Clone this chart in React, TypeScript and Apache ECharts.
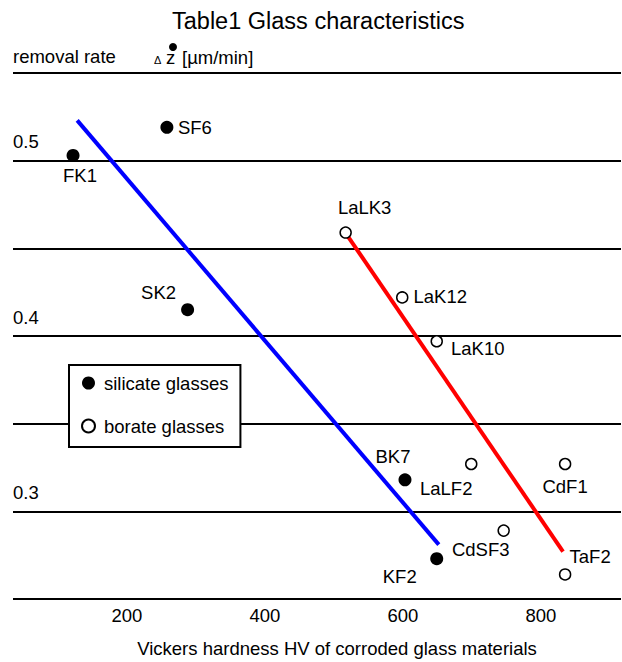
import { useEffect, useRef } from "react";
import * as echarts from "echarts";

// Silicate glasses (filled markers)
const silicateNames = ["FK1", "SF6", "SK2", "BK7", "KF2"];
const silicateHardness = [122, 258, 288, 603, 649];
const silicateRate = [0.503, 0.519, 0.415, 0.318, 0.273];

// Borate glasses (open markers)
const borateNames = ["LaLK3", "LaK12", "LaK10", "LaLF2", "CdF1", "CdSF3", "TaF2"];
const borateHardness = [517, 599, 649, 699, 835, 746, 835];
const borateRate = [0.459, 0.422, 0.397, 0.327, 0.327, 0.289, 0.264];

// Trend lines for each glass family
const silicateTrendHardness = [128, 652];
const silicateTrendRate = [0.523, 0.281];
const borateTrendHardness = [520, 832];
const borateTrendRate = [0.457, 0.277];

// Axis ticks
const hardnessTicks = [200, 400, 600, 800];
const rateTicks = [0.3, 0.4, 0.5];

// Label placement around each marker (dx, dy of the label centre)
const silicateLabelOffsets = [
  [7, 20],
  [28, 0],
  [-29, -17],
  [-12, -23],
  [-37, 18],
];
const borateLabelOffsets = [
  [19, -25],
  [38, -1],
  [41, 7],
  [-25, 25],
  [0, 23],
  [-23, 19],
  [25, -18],
];

const FONT = "'Liberation Sans', Arial, sans-serif";
const INK = "#000";
const FS = 18.5;

export default function App() {
  const ref = useRef<HTMLDivElement>(null);

  useEffect(() => {
    if (!ref.current) return;
    const chart = echarts.init(ref.current, null, { renderer: "svg" });

    const pointLabel = {
      show: true,
      position: "inside",
      formatter: "{b}",
      color: INK,
      fontSize: FS,
      fontFamily: FONT,
    };

    chart.setOption({
      animation: false,
      backgroundColor: "#fff",
      textStyle: { fontFamily: FONT, color: INK },
      title: {
        text: "Table1 Glass characteristics",
        left: 172,
        top: 9,
        padding: 0,
        textStyle: { fontSize: 23.5, fontWeight: "normal", color: INK, fontFamily: FONT },
      },
      grid: { left: 13, right: 1, top: 73, bottom: 63, containLabel: false },
      legend: {
        data: [
          { name: "silicate glasses", icon: "circle" },
          { name: "borate glasses", icon: "circle" },
        ],
        orient: "vertical",
        left: 69,
        top: 365,
        padding: [8, 12, 11, 12],
        itemGap: 23,
        itemWidth: 13,
        itemHeight: 13,
        backgroundColor: "#fff",
        borderColor: INK,
        borderWidth: 2,
        borderRadius: 0,
        selectedMode: false,
        z: 10,
        textStyle: {
          fontSize: FS,
          lineHeight: 20,
          color: INK,
          fontFamily: FONT,
          padding: [0, 0, 0, 4],
        },
      },
      xAxis: {
        type: "value",
        min: 35,
        max: 916,
        axisLine: { show: false },
        axisTick: { show: false },
        splitLine: { show: false },
        axisLabel: {
          customValues: hardnessTicks,
          margin: 7,
          color: INK,
          fontSize: FS,
          fontFamily: FONT,
        },
      },
      yAxis: {
        type: "value",
        min: 0.25,
        max: 0.55,
        interval: 0.05,
        axisLine: { show: false },
        axisTick: { show: false },
        splitLine: { show: true, lineStyle: { color: INK, width: 2 } },
        axisLabel: {
          customValues: rateTicks,
          inside: true,
          margin: 0,
          verticalAlign: "bottom",
          lineHeight: 20,
          padding: [0, 0, 9, 0],
          color: INK,
          fontSize: FS,
          fontFamily: FONT,
        },
      },
      graphic: [
        {
          type: "text",
          left: 13,
          top: 47,
          style: { text: "removal rate", fill: INK, fontSize: FS, fontFamily: FONT },
        },
        {
          type: "text",
          x: 154,
          y: 60,
          style: {
            text: "\u0394",
            fill: INK,
            fontSize: 11,
            fontFamily: FONT,
            verticalAlign: "middle",
          },
        },
        {
          type: "text",
          x: 166,
          y: 57,
          style: { text: "z", fill: INK, fontSize: FS, fontFamily: FONT, verticalAlign: "middle" },
        },
        {
          type: "circle",
          shape: { cx: 173, cy: 47, r: 4 },
          style: { fill: INK },
        },
        {
          type: "text",
          x: 182,
          y: 57,
          style: {
            text: "[\u00b5m/min]",
            fill: INK,
            fontSize: FS,
            fontFamily: FONT,
            verticalAlign: "middle",
          },
        },
        {
          type: "text",
          x: 337,
          y: 648,
          style: {
            text: "Vickers hardness HV of corroded glass materials",
            fill: INK,
            fontSize: FS,
            fontFamily: FONT,
            align: "center",
            verticalAlign: "middle",
          },
        },
      ],
      series: [
        {
          name: "silicate trend",
          type: "line",
          data: silicateTrendHardness.map((h, i) => [h, silicateTrendRate[i]]),
          showSymbol: false,
          symbol: "none",
          lineStyle: { color: "#0000ff", width: 4 },
          z: 3,
          silent: true,
        },
        {
          name: "borate trend",
          type: "line",
          data: borateTrendHardness.map((h, i) => [h, borateTrendRate[i]]),
          showSymbol: false,
          symbol: "none",
          lineStyle: { color: "#ff0000", width: 4 },
          z: 3,
          silent: true,
        },
        {
          name: "silicate glasses",
          type: "scatter",
          symbol: "circle",
          symbolSize: 13,
          itemStyle: { color: INK, opacity: 1 },
          label: pointLabel,
          z: 5,
          data: silicateNames.map((n, i) => ({
            name: n,
            value: [silicateHardness[i], silicateRate[i]],
            label: { offset: silicateLabelOffsets[i] },
          })),
        },
        {
          name: "borate glasses",
          type: "scatter",
          symbol: "circle",
          symbolSize: 11,
          itemStyle: { color: "#fff", borderColor: INK, borderWidth: 1.5, opacity: 1 },
          label: pointLabel,
          z: 5,
          data: borateNames.map((n, i) => ({
            name: n,
            value: [borateHardness[i], borateRate[i]],
            label: { offset: borateLabelOffsets[i] },
          })),
        },
      ],
    });

    return () => chart.dispose();
  }, []);

  return (
    <div
      ref={ref}
      style={{ position: "fixed", left: 0, top: 0, width: 622, height: 662, background: "#fff" }}
    />
  );
}
